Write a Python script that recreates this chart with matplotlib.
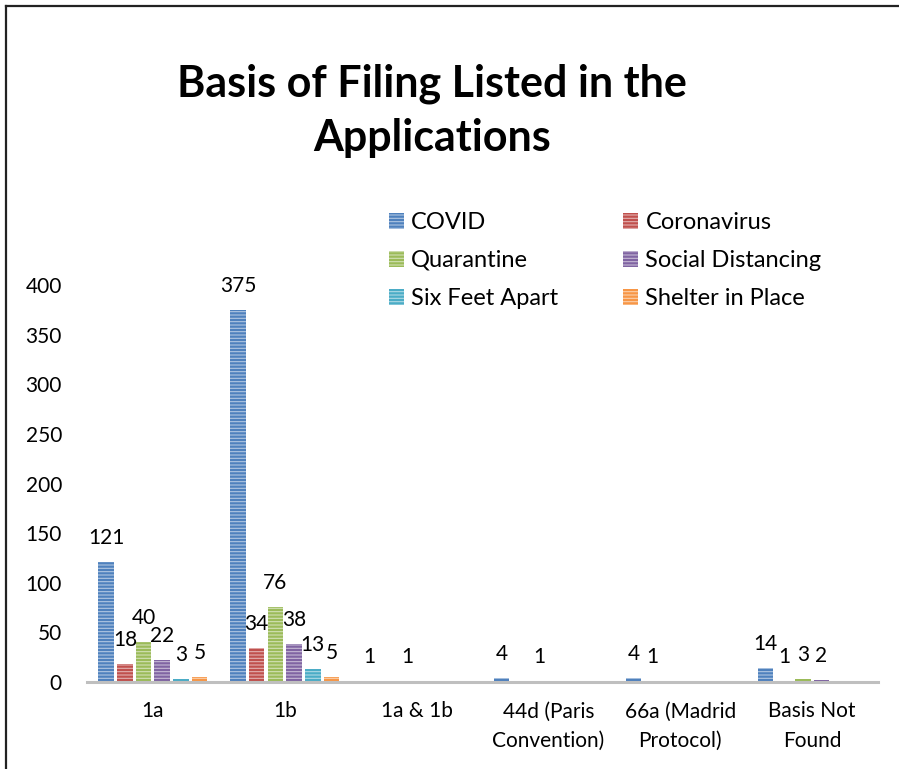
import numpy as np
import matplotlib.pyplot as plt
from matplotlib.lines import Line2D

plt.rcParams['font.family'] = ['Lato', 'DejaVu Sans']
plt.rcParams['hatch.linewidth'] = 0.8

categories = ['1a', '1b', '1a & 1b', '44d (Paris\nConvention)',
              '66a (Madrid\nProtocol)', 'Basis Not\nFound']
series = ['COVID', 'Coronavirus', 'Quarantine', 'Social Distancing',
          'Six Feet Apart', 'Shelter in Place']
covid = [121, 375, 1, 4, 4, 14]
coronavirus = [18, 34, 0, 0, 1, 1]
quarantine = [40, 76, 1, 1, 0, 3]
social_distancing = [22, 38, 0, 0, 0, 2]
six_feet_apart = [3, 13, 0, 0, 0, 0]
shelter_in_place = [5, 5, 0, 0, 0, 0]
colors = ['#4F81BD', '#C0504D', '#9BBB59', '#8064A2', '#4BACC6', '#F79646']

values = [covid, coronavirus, quarantine, social_distancing,
          six_feet_apart, shelter_in_place]

fig = plt.figure(figsize=(8.99, 7.69), dpi=100)
ax = fig.add_axes([87 / 899, 87 / 769, 791 / 899, 397 / 769])

x = np.arange(len(categories))
step = 0.142
width = 0.118
handles = []
for i, (name, vals, col) in enumerate(zip(series, values, colors)):
    pos = x + (i - 2.5) * step
    bars = ax.bar(pos, vals, width, color=col, edgecolor=(1, 1, 1, 0.55),
                  linewidth=0, hatch='-----', label=name)
    handles.append(bars)
    for px, v in zip(pos, vals):
        if v > 0:
            ax.annotate(str(v), (px, v), xytext=(0, 13), textcoords='offset points',
                        ha='center', va='baseline', fontsize=15)

ax.set_xlim(-0.5, len(categories) - 0.5)
ax.set_ylim(0, 400)
ax.set_yticks(np.arange(0, 401, 50))
ax.set_xticks(x)
ax.set_xticklabels(categories, linespacing=1.6)
ax.tick_params(axis='both', length=0, labelsize=15)
ax.tick_params(axis='y', pad=18)
ax.tick_params(axis='x', pad=14)
for s in ['top', 'right', 'left']:
    ax.spines[s].set_visible(False)
ax.spines['bottom'].set_color('#BFBFBF')
ax.spines['bottom'].set_linewidth(2.2)

fig.text(0.481, 0.856, 'Basis of Filing Listed in the\nApplications', ha='center',
         va='center', fontsize=31, fontweight='bold', linespacing=1.45)

order = [0, 2, 4, 1, 3, 5]
fig.legend([handles[i] for i in order], [series[i] for i in order], ncol=2,
           loc='upper left', bbox_to_anchor=(389 / 899, 1 - 212 / 769),
           frameon=False, fontsize=17, borderpad=0, borderaxespad=0,
           handlelength=0.64, handleheight=0.64, handletextpad=0.3,
           labelspacing=0.72, columnspacing=2.75)

# border of the chart area
fig.add_artist(Line2D([6 / 899, 6 / 899], [0, 1 - 6 / 769], color='#222222', lw=1.6))
fig.add_artist(Line2D([6 / 899, 1], [1 - 6 / 769, 1 - 6 / 769], color='#222222', lw=1.6))

fig.savefig('out.png', dpi=100)
